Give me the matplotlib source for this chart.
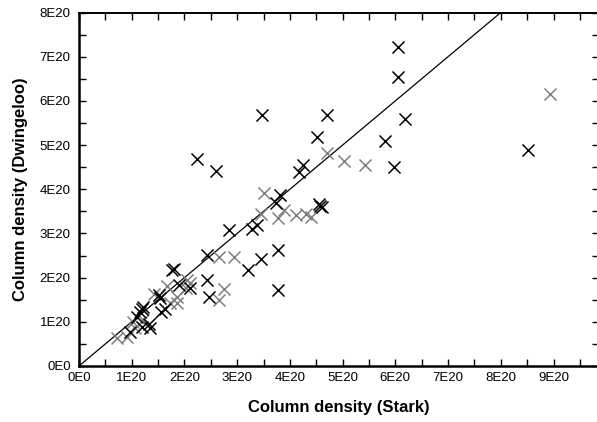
import matplotlib
matplotlib.use("Agg")
import matplotlib.pyplot as plt
from matplotlib.ticker import MultipleLocator

plt.rcParams['font.family'] = ['Liberation Sans', 'DejaVu Sans']

# Column densities in units of 1E20 cm^-2
black_x = [6.05, 6.05, 3.48, 4.70, 2.23, 2.59, 4.51, 5.81, 6.19, 5.97, 4.24, 4.18,
           3.82, 3.73, 4.55, 4.58, 4.60, 3.38, 3.29, 2.84, 2.43, 3.45, 3.77, 3.21,
           2.43, 2.46, 3.77, 8.51,
           1.77, 1.80, 1.89, 2.11, 1.51, 1.54, 1.64, 1.56, 1.19, 1.22, 1.16, 1.10,
           1.32, 1.35, 1.19, 0.97]
black_y = [7.23, 6.55, 5.69, 5.69, 4.69, 4.41, 5.19, 5.10, 5.58, 4.50, 4.54, 4.40,
           3.88, 3.68, 3.66, 3.62, 3.60, 3.19, 3.10, 3.08, 2.51, 2.43, 2.62, 2.18,
           1.94, 1.57, 1.73, 4.88,
           2.17, 2.20, 1.83, 1.76, 1.60, 1.53, 1.30, 1.23, 1.30, 1.33, 1.23, 1.11,
           0.96, 0.87, 0.89, 0.76]

gray_x = [8.93, 4.70, 5.02, 5.43, 3.51, 3.45, 3.77, 3.89, 4.11, 4.30, 4.40, 2.65,
          2.94, 2.75, 2.65, 2.05, 2.02, 1.86, 1.73, 1.42, 1.67, 1.86, 1.03, 0.91,
          0.72, 1.07, 1.22, 2.11]
gray_y = [6.16, 4.81, 4.63, 4.54, 3.92, 3.45, 3.34, 3.53, 3.41, 3.45, 3.37, 2.47,
          2.47, 1.74, 1.50, 1.94, 1.76, 1.57, 1.42, 1.64, 1.81, 1.43, 1.00, 0.66,
          0.64, 0.85, 1.04, 1.87]

line_x = [0, 8]
line_y = [0, 8]

x_ticks = list(range(0, 10))
x_labels = ["0E0"] + [f"{i}E20" for i in range(1, 10)]
y_ticks = list(range(0, 9))
y_labels = ["0E0"] + [f"{i}E20" for i in range(1, 9)]

fig = plt.figure(figsize=(5.97, 4.22), dpi=100)
ax = fig.add_axes([79/597, 1 - 366/422, 1 - 79/597 + 0.004, (366 - 12.5)/422])

ax.plot(line_x, line_y, color='black', lw=0.9, zorder=2)
ax.scatter(gray_x, gray_y, marker='x', s=75, color='#7f7f7f', linewidths=1.1, zorder=3)
ax.scatter(black_x, black_y, marker='x', s=75, color='black', linewidths=1.1, zorder=4)

ax.set_xlim(0, 9.87)
ax.set_ylim(0, 8)
ax.set_xticks(x_ticks)
ax.set_xticklabels(x_labels)
ax.set_yticks(y_ticks)
ax.set_yticklabels(y_labels)
ax.xaxis.set_minor_locator(MultipleLocator(0.5))
ax.yaxis.set_minor_locator(MultipleLocator(0.5))

ax.tick_params(which='both', direction='in', top=True, right=True,
               labelsize=9.5, width=1, color='black')
ax.tick_params(which='major', length=5, pad=4)
ax.tick_params(which='minor', length=5)
ax.tick_params(axis='y', which='major', pad=6)

for side in ['left', 'bottom']:
    ax.spines[side].set_linewidth(1.8)
ax.spines['top'].set_linewidth(1.4)
ax.spines['right'].set_visible(False)

ax.set_xlabel("Column density (Stark)", fontsize=12, fontweight='bold', labelpad=12)
ax.set_ylabel("Column density (Dwingeloo)", fontsize=12, fontweight='bold', labelpad=8)

fig.savefig("out.png", dpi=100)
